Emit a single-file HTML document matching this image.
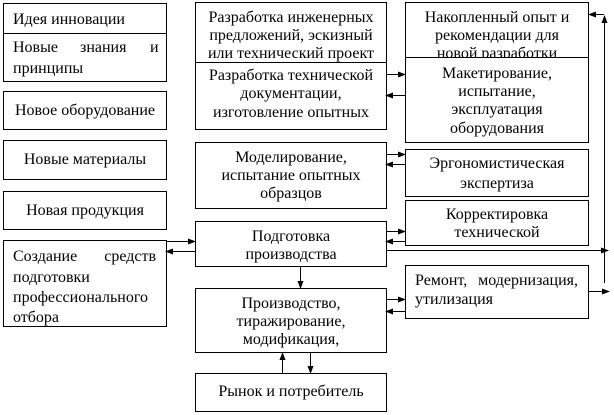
<!DOCTYPE html>
<html><head><meta charset="utf-8"><style>
html,body{margin:0;padding:0;background:#fff}
svg{display:block}
text{font-family:"Liberation Serif",serif;font-size:16px;fill:#000}
rect{fill:#fff;stroke:#000;stroke-width:1}
line{stroke:#000;stroke-width:1}
</style></head><body>
<svg width="614" height="415" viewBox="0 0 614 415">
<defs><marker id="a" markerWidth="8" markerHeight="8" refX="7" refY="4" orient="auto" markerUnits="userSpaceOnUse"><path d="M0,1 L8,4 L0,7z" fill="#000"/></marker></defs>
<rect x="3.5" y="3.5" width="163" height="78"/>
<line x1="3" y1="33.5" x2="166" y2="33.5"/>
<text x="13" y="24">Идея инновации</text>
<text x="13" y="52">Новые</text><text x="80" y="52">знания</text><text x="150" y="52">и</text>
<text x="13" y="73">принципы</text>
<rect x="3.5" y="91.5" width="163" height="38"/>
<text x="85" y="115" text-anchor="middle">Новое оборудование</text>
<rect x="3.5" y="140.5" width="163" height="39"/>
<text x="85" y="164" text-anchor="middle">Новые материалы</text>
<rect x="3.5" y="191.5" width="163" height="38"/>
<text x="85" y="215" text-anchor="middle">Новая продукция</text>
<rect x="3.5" y="240.5" width="163" height="86"/>
<text x="13" y="261">Создание</text><text x="156" y="261" text-anchor="end">средств</text>
<text x="13" y="282">подготовки</text>
<text x="13" y="302">профессионального</text>
<text x="13" y="322">отбора</text>
<rect x="195.5" y="2.5" width="191" height="127"/>
<line x1="195" y1="62.5" x2="386" y2="62.5"/>
<text x="291" y="22" text-anchor="middle">Разработка инженерных</text>
<text x="291" y="40" text-anchor="middle">предложений, эскизный</text>
<text x="291" y="58" text-anchor="middle">или технический проект</text>
<text x="291" y="80" text-anchor="middle">Разработка технической</text>
<text x="291" y="98" text-anchor="middle">документации,</text>
<text x="291" y="117" text-anchor="middle">изготовление опытных</text>
<rect x="195.5" y="142.5" width="191" height="66"/>
<text x="291" y="162" text-anchor="middle">Моделирование,</text>
<text x="291" y="180" text-anchor="middle">испытание опытных</text>
<text x="291" y="198" text-anchor="middle">образцов</text>
<rect x="195.5" y="221.5" width="191" height="45"/>
<text x="291" y="241" text-anchor="middle">Подготовка</text>
<text x="291" y="259" text-anchor="middle">производства</text>
<rect x="195.5" y="288.5" width="191" height="64"/>
<text x="291" y="308" text-anchor="middle">Производство,</text>
<text x="291" y="326" text-anchor="middle">тиражирование,</text>
<text x="291" y="344" text-anchor="middle">модификация,</text>
<rect x="195.5" y="373.5" width="191" height="38"/>
<text x="291" y="396" text-anchor="middle">Рынок и потребитель</text>
<rect x="405.5" y="2.5" width="183" height="140"/>
<text x="497" y="22" text-anchor="middle">Накопленный опыт и</text>
<text x="497" y="40" text-anchor="middle">рекомендации для</text>
<text x="497" y="58" text-anchor="middle">новой разработки</text>
<rect x="405.5" y="57.5" width="183" height="85"/>
<text x="497" y="78" text-anchor="middle">Макетирование,</text>
<text x="497" y="96" text-anchor="middle">испытание,</text>
<text x="497" y="114" text-anchor="middle">эксплуатация</text>
<text x="497" y="133" text-anchor="middle">оборудования</text>
<rect x="405.5" y="149.5" width="183" height="47"/>
<text x="497" y="168" text-anchor="middle">Эргономистическая</text>
<text x="497" y="188" text-anchor="middle">экспертиза</text>
<rect x="405.5" y="200.5" width="183" height="45"/>
<text x="497" y="219" text-anchor="middle">Корректировка</text>
<text x="497" y="237" text-anchor="middle">технической</text>
<rect x="405.5" y="265.5" width="183" height="53"/>
<text x="415" y="285">Ремонт,</text><text x="578" y="285" text-anchor="end">модернизация,</text>
<text x="415" y="304">утилизация</text>
<line x1="386" y1="74.5" x2="405" y2="74.5" marker-end="url(#a)"/>
<line x1="405" y1="95.5" x2="386" y2="95.5" marker-end="url(#a)"/>
<line x1="386" y1="154.5" x2="405" y2="154.5" marker-end="url(#a)"/>
<line x1="405" y1="164.5" x2="386" y2="164.5" marker-end="url(#a)"/>
<line x1="386" y1="231.5" x2="405" y2="231.5" marker-end="url(#a)"/>
<line x1="405" y1="241.5" x2="386" y2="241.5" marker-end="url(#a)"/>
<line x1="386" y1="299.5" x2="405" y2="299.5" marker-end="url(#a)"/>
<line x1="405" y1="311.5" x2="386" y2="311.5" marker-end="url(#a)"/>
<line x1="166" y1="241.5" x2="195" y2="241.5" marker-end="url(#a)"/>
<line x1="195" y1="251.5" x2="166" y2="251.5" marker-end="url(#a)"/>
<line x1="300.5" y1="267" x2="300.5" y2="288" marker-end="url(#a)"/>
<line x1="282.5" y1="373" x2="282.5" y2="353" marker-end="url(#a)"/>
<line x1="310.5" y1="353" x2="310.5" y2="373" marker-end="url(#a)"/>
<line x1="386" y1="250.5" x2="608" y2="250.5" marker-end="url(#a)"/>
<line x1="588" y1="291.5" x2="609" y2="291.5" marker-end="url(#a)"/>
<line x1="604.5" y1="283" x2="604.5" y2="16" marker-end="url(#a)"/>
<line x1="604" y1="14.5" x2="589" y2="14.5" marker-end="url(#a)"/>
</svg>
</body></html>
